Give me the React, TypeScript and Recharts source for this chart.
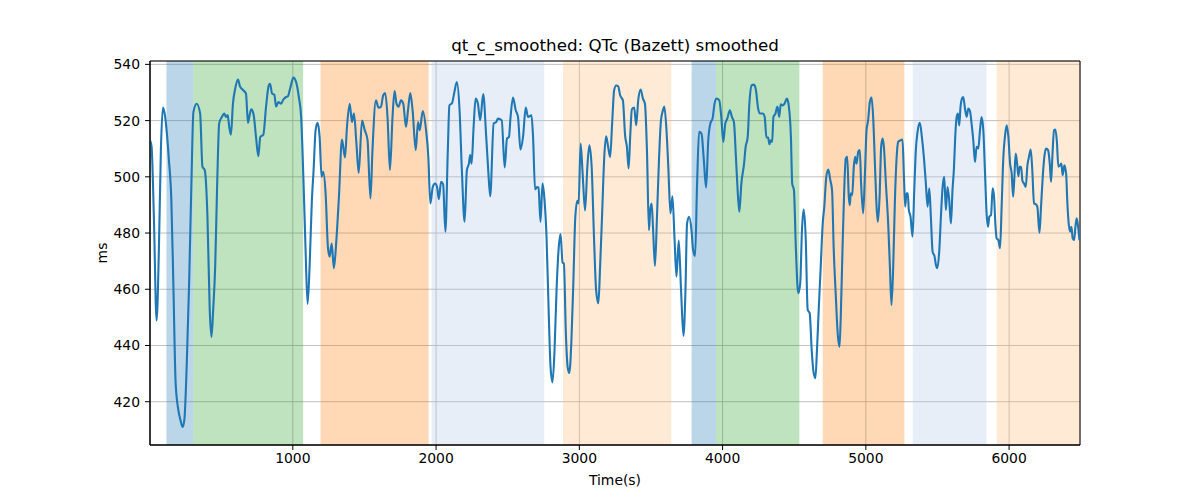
import { LineChart, Line, XAxis, YAxis, CartesianGrid, ReferenceArea } from "recharts";

const FONT = "'DejaVu Sans', sans-serif";

// time (s) and smoothed QTc (ms)
const timeS = [
  3, 14, 30, 49, 65, 79, 93, 107, 135, 152, 166, 182, 201, 215, 231, 243, 259, 276, 292, 306,
  329, 353, 369, 385, 404, 420, 432, 444, 458, 472, 486, 505, 521, 533, 545, 556, 568, 582, 598, 617,
  631, 654, 673, 687, 698, 710, 726, 743, 759, 773, 794, 813, 832, 841, 855, 871, 883, 899, 918, 934,
  953, 965, 981, 1004, 1023, 1042, 1058, 1075, 1089, 1103, 1117, 1133, 1145, 1159, 1173, 1187, 1201, 1212, 1229, 1245,
  1257, 1271, 1287, 1304, 1322, 1343, 1364, 1378, 1397, 1413, 1427, 1444, 1460, 1483, 1502, 1521, 1542, 1556, 1580, 1598,
  1615, 1631, 1645, 1661, 1678, 1696, 1710, 1724, 1738, 1755, 1771, 1790, 1804, 1820, 1836, 1858, 1874, 1886, 1907, 1930,
  1946, 1960, 1977, 1993, 2007, 2019, 2035, 2049, 2065, 2082, 2093, 2112, 2128, 2145, 2164, 2180, 2199, 2215, 2229, 2238,
  2248, 2262, 2276, 2292, 2308, 2329, 2350, 2364, 2378, 2402, 2420, 2432, 2458, 2479, 2495, 2509, 2519, 2537, 2556, 2572,
  2589, 2607, 2626, 2642, 2666, 2677, 2691, 2705, 2715, 2729, 2743, 2757, 2771, 2787, 2799, 2813, 2827, 2841, 2855, 2869,
  2883, 2892, 2906, 2918, 2930, 2944, 2958, 2972, 2986, 2995, 3009, 3023, 3040, 3056, 3070, 3086, 3103, 3117, 3133, 3145,
  3160, 3174, 3187, 3201, 3215, 3229, 3243, 3257, 3271, 3285, 3304, 3320, 3332, 3344, 3355, 3367, 3383, 3397, 3411, 3428,
  3444, 3458, 3472, 3486, 3495, 3505, 3514, 3528, 3542, 3556, 3570, 3584, 3593, 3607, 3621, 3636, 3650, 3664, 3678, 3694,
  3710, 3727, 3741, 3752, 3766, 3783, 3794, 3808, 3822, 3836, 3853, 3869, 3885, 3900, 3916, 3930, 3944, 3958, 3977, 3991,
  4005, 4019, 4033, 4051, 4065, 4079, 4093, 4105, 4117, 4131, 4150, 4161, 4175, 4187, 4203, 4219, 4233, 4248, 4262, 4280,
  4294, 4306, 4318, 4327, 4336, 4346, 4355, 4369, 4383, 4395, 4406, 4420, 4432, 4449, 4463, 4477, 4486, 4498, 4512, 4528,
  4542, 4554, 4566, 4580, 4594, 4608, 4622, 4634, 4648, 4659, 4673, 4685, 4699, 4710, 4724, 4738, 4752, 4764, 4776, 4790,
  4804, 4816, 4825, 4837, 4849, 4860, 4870, 4881, 4888, 4895, 4905, 4916, 4925, 4935, 4947, 4958, 4967, 4981, 4993, 5005,
  5016, 5028, 5040, 5051, 5065, 5075, 5084, 5096, 5107, 5117, 5126, 5140, 5156, 5168, 5179, 5191, 5203, 5214, 5226, 5242,
  5256, 5266, 5275, 5284, 5293, 5300, 5312, 5326, 5338, 5349, 5361, 5377, 5391, 5405, 5419, 5431, 5443, 5454, 5466, 5480,
  5489, 5499, 5513, 5524, 5536, 5547, 5559, 5570, 5582, 5594, 5605, 5615, 5624, 5634, 5643, 5652, 5661, 5671, 5680, 5692,
  5704, 5715, 5727, 5738, 5750, 5762, 5773, 5785, 5797, 5808, 5820, 5832, 5843, 5853, 5862, 5874, 5885, 5895, 5904, 5913,
  5925, 5937, 5948, 5960, 5972, 5983, 5995, 6007, 6018, 6028, 6037, 6046, 6056, 6065, 6074, 6084, 6093, 6104, 6116, 6128,
  6139, 6151, 6162, 6174, 6186, 6197, 6212, 6223, 6235, 6246, 6258, 6272, 6284, 6293, 6302, 6314, 6323, 6333, 6344, 6356,
  6365, 6374, 6386, 6398, 6407, 6416, 6426, 6435, 6444, 6454, 6463, 6472, 6482, 6491,
];

const qtcMs = [
  513, 510.7, 485.8, 448.9, 474, 509.5, 524.6, 522, 506, 491.7, 462, 426.6, 417, 413.6, 411, 413.6, 432.5, 462, 497.6, 523,
  526, 522.5, 503.6, 502.4, 485.8, 452.7, 443, 452.7, 468, 497.6, 519, 521.3, 522.5, 521.3, 522, 517.8, 515, 526, 531.4, 534.6,
  532.2, 530.8, 529.6, 519.2, 521.9, 524, 522.2, 514.2, 507.3, 514.2, 515, 524.9, 532.5, 533.1, 529.6, 529.2, 525, 526.6, 526, 527.5,
  528.4, 528.6, 531.4, 535.3, 533.7, 528.4, 521.3, 497.6, 474, 454.8, 468, 491.7, 502.4, 516.6, 519.2, 514.2, 500, 501.8, 494, 475,
  471.6, 476.3, 467.5, 477.5, 493, 513.3, 506.9, 517.8, 526, 519.5, 522.5, 511.8, 501.4, 520, 516.6, 513.3, 492.3, 509.5, 527.2, 524.6,
  524.9, 529, 529.8, 521.3, 502.4, 521.3, 530.5, 526, 524.9, 527.2, 526, 517.8, 523.7, 529.8, 523.7, 509.5, 519.5, 516.6, 523.4, 516.6,
  507.1, 490.5, 496.4, 497.6, 496.4, 492, 498.2, 497.4, 480.5, 509.5, 525.4, 526.3, 530.2, 533.7, 523.7, 502.4, 484, 502.4, 504.7, 507.7,
  504.7, 517.8, 527.8, 526, 520.1, 529.4, 514.2, 502.4, 493.1, 519, 519.5, 520.7, 520.1, 503.3, 513.6, 514.2, 520.7, 528.2, 523.7, 521.3,
  509.7, 514.2, 524.6, 521.3, 521.9, 514.2, 495.5, 496.4, 496.2, 484, 497.6, 491.7, 478.7, 450.3, 432.5, 426.9, 438.5, 459.8, 474, 479.6,
  469.5, 469.2, 444.4, 432.5, 430.2, 440.8, 462.1, 485.8, 491.5, 490.5, 511.8, 501.2, 488, 503.6, 511.2, 503.6, 477.5, 459.8, 455, 468,
  488, 507, 514.4, 510.7, 507, 519, 530.8, 532.5, 532.2, 529, 527.2, 514.4, 510.7, 503, 514.2, 524, 524.6, 518.3, 527.2, 531,
  527.8, 526, 509.5, 481, 488.2, 490.5, 482.2, 468.3, 485.8, 506, 520.1, 523.7, 525, 517.8, 503.6, 487, 493.1, 478.7, 464.5, 477.3,
  459.8, 443.4, 459.8, 483.4, 485.8, 481, 474, 471.8, 497.6, 516, 515.4, 506, 496.2, 513, 519.2, 520.7, 526, 527.8, 527.2, 521.3,
  512.4, 519, 520.7, 523.7, 521.3, 519.5, 507.1, 495.3, 487.6, 497.6, 504.7, 510.7, 514, 526, 532.5, 532.8, 530.8, 524.3, 522.5, 522.5,
  521.3, 514, 514, 511.6, 513, 512.4, 521.3, 522.5, 525, 521.3, 525.8, 525.4, 526, 527.8, 524.9, 514.2, 497.6, 495.3, 474, 458.6,
  462.1, 481, 488.4, 478.7, 452.7, 451.5, 438.5, 430.8, 428.4, 438.5, 455, 468, 483.4, 489.4, 500, 502.6, 498.8, 495.3, 474, 458,
  444, 439.5, 450.3, 474, 495.3, 506.5, 507.1, 492.9, 489.9, 494.1, 493.5, 503.6, 507.1, 504.7, 508.9, 509.5, 497.6, 487, 500, 516.6,
  520.1, 526.6, 528.2, 521.3, 502.4, 489.4, 484, 492.9, 510.7, 513.6, 510.7, 497.6, 483.4, 468, 454.4, 468, 491.7, 506, 512.4, 513,
  513.3, 500, 489.4, 494.1, 494.1, 488.2, 485.8, 478.7, 495.3, 509.5, 516, 519.2, 514.2, 507.1, 497.6, 489.4, 495.9, 485.8, 473.4, 471.6,
  468.7, 467.5, 474, 485.8, 496.4, 500, 488.2, 496.4, 491.7, 483.4, 495.3, 503, 514.2, 521.3, 522.5, 518.3, 524.9, 527.8, 528.4, 524.3,
  521.3, 524.3, 523.4, 519, 513, 505.3, 510.7, 510.1, 516.6, 521.3, 516.6, 501.4, 487, 482.2, 485.8, 486.4, 495.9, 492.9, 483.4, 478.1,
  477.5, 474.6, 489.4, 507.1, 514.8, 518.3, 514.2, 504.7, 501.2, 492.9, 500, 508.3, 504.7, 500.2, 503.6, 503.6, 498.6, 497.6, 496.4, 504.1,
  507.1, 509.7, 502.4, 490.5, 490.3, 489.4, 480.1, 489.4, 500, 507.1, 510.1, 509.5, 504.7, 498.2, 507.1, 516.6, 516.8, 513, 503.6, 504.1,
  504.7, 500.6, 504.1, 501.2, 490.5, 483.4, 480.5, 482.2, 478.1, 477.5, 482.2, 485.2, 482.2, 477.5,
];

// protocol phases (start, end in s) and which phase kind each one is
const phaseStart = [118, 305, 1193, 1969, 2886, 3784, 3954, 4699, 5327, 5914];
const phaseEnd = [305, 1072, 1948, 2755, 3642, 3954, 4536, 5269, 5842, 6495];
const phaseKind = ["a", "b", "c", "d", "e", "a", "b", "c", "d", "e"];

const xTicks = [1000, 2000, 3000, 4000, 5000, 6000];
const yTicks = [420, 440, 460, 480, 500, 520, 540];

const KIND_COLOR = { a: "#1f77b4", b: "#2ca02c", c: "#ff7f0e", d: "#aec7e8", e: "#ffbb78" };

const X_DOMAIN = [3, 6495];
const Y_DOMAIN = [404.6, 541.2];

const data = timeS.map((t, i) => ({ t, qtc: qtcMs[i] }));

const tickStyle = { fontFamily: FONT, fontSize: 13.9, fill: "#000" };

export default function App() {
  return (
    <div style={{ position: "absolute", left: 0, top: 0, width: 1200, height: 500, background: "#fff", fontFamily: FONT }}>
      <div style={{ position: "absolute", left: 0, width: 1230, top: 35, textAlign: "center", fontSize: 16.7, color: "#000" }}>
        qt_c_smoothed: QTc (Bazett) smoothed
      </div>
      <div style={{ position: "absolute", left: 102, top: 253, fontSize: 13.9, color: "#000",
        transform: "translate(-50%, -50%) rotate(-90deg)" }}>
        ms
      </div>
      <div style={{ position: "absolute", left: 0, width: 1230, top: 472, textAlign: "center", fontSize: 13.9, color: "#000" }}>
        Time(s)
      </div>
      <LineChart width={1200} height={500} data={data}
        margin={{ top: 61, right: 120, bottom: 25, left: 90 }}>
        <CartesianGrid stroke="#b0b0b0" strokeWidth={0.8} />
        <XAxis type="number" dataKey="t" domain={X_DOMAIN} ticks={xTicks} allowDataOverflow
          height={30} tick={tickStyle} tickSize={5} tickMargin={3}
          axisLine={{ stroke: "#000" }} tickLine={{ stroke: "#000" }} />
        <YAxis type="number" domain={Y_DOMAIN} ticks={yTicks} allowDataOverflow
          width={60} tick={tickStyle} tickSize={5} tickMargin={5}
          axisLine={{ stroke: "#000" }} tickLine={{ stroke: "#000" }} />
        {phaseStart.map((s, i) => (
          <ReferenceArea key={i} x1={s} x2={phaseEnd[i]} y1={Y_DOMAIN[0]} y2={Y_DOMAIN[1]}
            fill={KIND_COLOR[phaseKind[i]]} fillOpacity={0.3} stroke="none" ifOverflow="extendDomain" />
        ))}
        <Line type="monotone" dataKey="qtc" stroke="#1f77b4" strokeWidth={2.1} dot={false} isAnimationActive={false} />
        <ReferenceArea x1={X_DOMAIN[0]} x2={X_DOMAIN[1]} y1={Y_DOMAIN[0]} y2={Y_DOMAIN[1]}
          fill="none" stroke="#000" strokeWidth={1} />
      </LineChart>
    </div>
  );
}
